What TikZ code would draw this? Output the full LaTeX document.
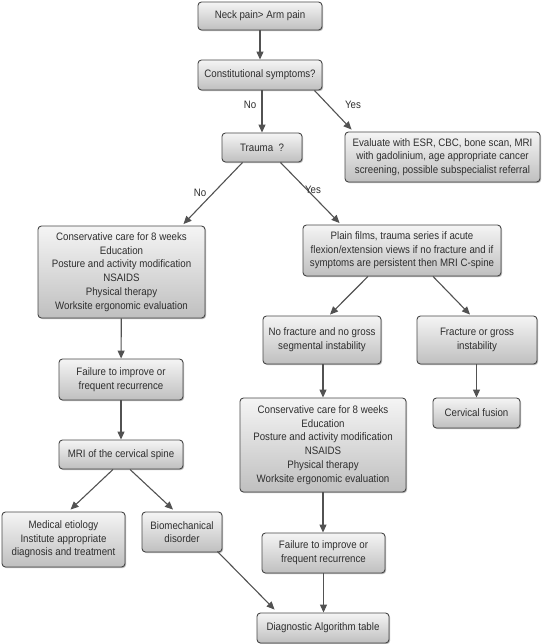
\documentclass[tikz,border=0pt]{standalone}
\usepackage{fontspec}
\setmainfont[FakeStretch=0.9]{Liberation Sans}
\usetikzlibrary{arrows.meta,shadows,calc}
\begin{document}
\begin{tikzpicture}[x=1pt,y=-1pt,
  box/.style={draw=black!72, line width=0.9pt, rounded corners=3.5pt,
    top color=black!4, bottom color=black!25, align=center, inner sep=0pt,
    text=black!82, font=\fontsize{10.8}{13.7}\selectfont,
    drop shadow={shadow xshift=1.1pt, shadow yshift=-1.1pt, fill=black!55}},
  arr/.style={draw=black!68, line width=1.1pt, -{Triangle[length=8pt,width=7pt]}},
  lbl/.style={text=black!82, font=\fontsize{10.8}{12}\selectfont, inner sep=0pt}]
\useasboundingbox (0,0) rectangle (542,644);

\node[box, minimum width=124pt, minimum height=28pt] (neck) at (260,16) {Neck pain> Arm pain};
\node[box, minimum width=124pt, minimum height=30pt] (const) at (260,75) {Constitutional symptoms?};
\node[box, minimum width=80pt, minimum height=29pt] (trauma) at (262,147.5) {Trauma\ \ ?};
\node[box, minimum width=195pt, minimum height=50pt] (eval) at (442.5,157) {Evaluate with ESR, CBC, bone scan, MRI\\with gadolinium, age appropriate cancer\\screening, possible subspecialist referral};
\node[box, minimum width=167pt, minimum height=92pt] (consL) at (121.5,272) {Conservative care for 8 weeks\\Education\\Posture and activity modification\\NSAIDS\\Physical therapy\\Worksite ergonomic evaluation};
\node[box, minimum width=198pt, minimum height=51pt] (plain) at (402,250.5) {Plain films, trauma series if acute\\flexion/extension views if no fracture and if\\symptoms are persistent then MRI C-spine};
\node[box, minimum width=118pt, minimum height=48pt] (nofrac) at (322,340) {No fracture and no gross\\segmental instability};
\node[box, minimum width=120pt, minimum height=48pt] (frac) at (477,340) {Fracture or gross\\instability};
\node[box, minimum width=166pt, minimum height=94pt] (consR) at (323,445) {Conservative care for 8 weeks\\Education\\Posture and activity modification\\NSAIDS\\Physical therapy\\Worksite ergonomic evaluation};
\node[box, minimum width=87pt, minimum height=30pt] (fusion) at (476.5,413) {Cervical fusion};
\node[box, minimum width=124pt, minimum height=41pt] (failL) at (121,379.5) {Failure to improve or\\frequent recurrence};
\node[box, minimum width=124pt, minimum height=29pt] (mri) at (121,454.5) {MRI of the cervical spine};
\node[box, minimum width=123pt, minimum height=55pt] (med) at (63.5,539.5) {Medical etiology\\Institute appropriate\\diagnosis and treatment};
\node[box, minimum width=80pt, minimum height=40pt] (bio) at (182,532) {Biomechanical\\disorder};
\node[box, minimum width=123pt, minimum height=40pt] (failR) at (323.5,553) {Failure to improve or\\frequent recurrence};
\node[box, minimum width=132pt, minimum height=30pt] (diag) at (323,628) {Diagnostic Algorithm table};

\draw[arr] (neck) -- (const);
\draw[arr] (trauma.north |- const.south) -- (trauma.north);
\draw[arr] ([xshift=-8pt]const.south east) -- ([xshift=7pt,yshift=2pt]eval.north west);
\node[lbl] (no1) at (250,105) {No};
\node[lbl] (yes1) at (353,105) {Yes};
\draw[arr] ([xshift=21pt]trauma.south west) -- ([xshift=-22pt,yshift=1.5pt]consL.north east);
\draw[arr] ([xshift=-22pt]trauma.south east) -- ([xshift=37pt,yshift=1.5pt]plain.north west);
\node[lbl] (no2) at (200,193) {No};
\node[lbl] (yes2) at (313,190) {Yes};
\draw[arr] (consL) -- (failL);
\draw[arr] (failL) -- (mri);
\draw[arr] ([xshift=-8pt]mri.south) -- ([xshift=7pt,yshift=2pt]med.north);
\draw[arr] ([xshift=9pt]mri.south) -- ([xshift=-9pt,yshift=2pt]bio.north);
\draw[arr] ([xshift=-5pt,yshift=1pt]bio.south east) -- ([xshift=18pt,yshift=3pt]diag.north west);
\draw[arr] ([xshift=-34pt]plain.south) -- ([xshift=8pt,yshift=1pt]nofrac.north);
\draw[arr] ([xshift=31pt]plain.south) -- ([xshift=-7pt,yshift=1pt]frac.north);
\draw[arr] (consR.north |- nofrac.south) -- (consR.north);
\draw[arr] (fusion.north |- frac.south) -- (fusion.north);
\draw[arr] (consR.south) -- (consR.south |- failR.north);
\draw[arr] (failR.south) -- (failR.south |- diag.north);
\end{tikzpicture}
\end{document}
